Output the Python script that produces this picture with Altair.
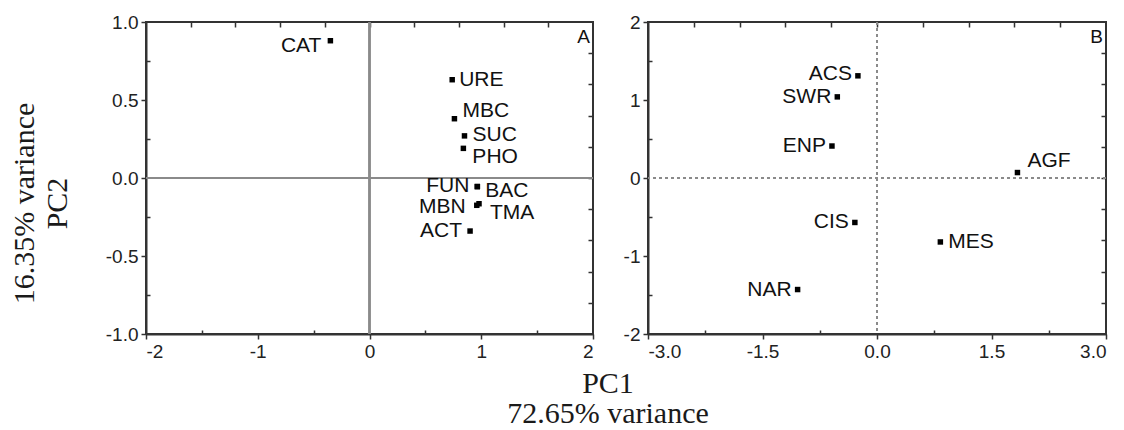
import altair as alt
import pandas as pd

# ---------------- data ----------------
# Panel A (loadings)
a_names = ["CAT", "URE", "MBC", "SUC", "PHO", "FUN", "BAC", "MBN", "TMA", "ACT"]
a_pc1 = [-0.35, 0.74, 0.76, 0.85, 0.84, 0.965, 0.965, 0.96, 0.98, 0.90]
a_pc2 = [0.88, 0.63, 0.38, 0.27, 0.19, -0.055, -0.055, -0.175, -0.165, -0.34]

# Panel B (scores)
b_names = ["ACS", "SWR", "ENP", "AGF", "CIS", "MES", "NAR"]
b_pc1 = [-0.25, -0.52, -0.59, 1.84, -0.29, 0.83, -1.04]
b_pc2 = [1.31, 1.04, 0.41, 0.07, -0.57, -0.82, -1.43]

# axis tick values
a_x_major = [-2, -1, 0, 1, 2]
a_x_minor = [-1.5, -0.5, 0.5, 1.5]
a_x_top = [-1.6, -1.2, -0.8, -0.4, 0, 0.4, 0.8, 1.2, 1.6]
a_y_major = [-1.0, -0.5, 0.0, 0.5, 1.0]
a_y_minor = [-0.75, -0.25, 0.25, 0.75]
a_y_right = [-0.8, -0.6, -0.4, -0.2, 0, 0.2, 0.4, 0.6, 0.8]

b_x_major = [-3.0, -1.5, 0.0, 1.5, 3.0]
b_x_minor = [-2.25, -0.75, 0.75, 2.25]
b_x_top = [-2.4, -1.8, -1.2, -0.6, 0, 0.6, 1.2, 1.8, 2.4]
b_y_major = [-2, -1, 0, 1, 2]
b_y_minor = [-1.5, -0.5, 0.5, 1.5]
b_y_right = [-1.6, -1.2, -0.8, -0.4, 0, 0.4, 0.8, 1.2, 1.6]

y_title = ["16.35% variance", "PC2"]
x_title = ["PC1", "72.65% variance"]

# ---------------- label placement (style) ----------------
# side, x nudge px, y nudge px
a_place = {
    "CAT": ("L", -9, 5), "URE": ("R", 7, 0), "MBC": ("R", 8, -8), "SUC": ("R", 8, -1),
    "PHO": ("R", 9, 9), "FUN": ("L", -8, -1), "BAC": ("R", 8, 4), "MBN": ("L", -11, 2),
    "TMA": ("R", 11, 9), "ACT": ("L", -8, 0),
}
b_place = {
    "ACS": ("L", -6, -2), "SWR": ("L", -6, 0), "ENP": ("L", -6, 0), "AGF": ("R", 10, -12),
    "CIS": ("L", -6, 0), "MES": ("R", 8, 0), "NAR": ("L", -6, 0),
}


def make_df(names, xs, ys, place):
    return pd.DataFrame({
        "name": names, "pc1": xs, "pc2": ys,
        "side": [place[n][0] for n in names],
        "ndx": [place[n][1] for n in names],
        "ndy": [place[n][2] for n in names],
    })


LABEL_FONT = "Liberation Sans"
TITLE_FONT = "Liberation Serif"
HYPHEN = "replace(datum.label, '\u2212', '-')"


def panel(df, xdom, ydom, w, h, xmaj, xmin, xtop, ymaj, ymin, yright,
          xfmt, yfmt, ytitle, dash, tag):
    xs = alt.Scale(domain=xdom, nice=False, zero=False)
    ys = alt.Scale(domain=ydom, nice=False, zero=False)
    base = alt.Chart(df)

    yaxis_kw = dict(orient="left", values=ymaj, format=yfmt, grid=False,
                    tickSize=5, labelPadding=3, labelExpr=HYPHEN)
    if ytitle is not None:
        yaxis_kw.update(title=ytitle, titlePadding=33, titleLineHeight=33,
                        titleAngle=-90, titleY=181)
    else:
        yaxis_kw.update(title=None)

    pts = base.mark_square(size=30, color="black", opacity=1).encode(
        x=alt.X("pc1:Q", scale=xs,
                axis=alt.Axis(orient="bottom", values=xmaj, format=xfmt, title=None,
                              grid=False, tickSize=5, labelPadding=3, labelExpr=HYPHEN)),
        y=alt.Y("pc2:Q", scale=ys, axis=alt.Axis(**yaxis_kw)),
    )
    minor = base.mark_point(opacity=0).encode(
        x=alt.X("pc1:Q", scale=xs,
                axis=alt.Axis(orient="bottom", values=xmin, labels=False, domain=False,
                              tickSize=4, offset=-4, title=None, grid=False)),
        y=alt.Y("pc2:Q", scale=ys,
                axis=alt.Axis(orient="left", values=ymin, labels=False, domain=False,
                              tickSize=4, offset=-4, title=None, grid=False)),
    )
    mirror = base.mark_point(opacity=0).encode(
        x=alt.X("pc1:Q", scale=xs,
                axis=alt.Axis(orient="top", values=xtop, labels=False, domain=False,
                              tickSize=5, offset=-5, title=None, grid=False)),
        y=alt.Y("pc2:Q", scale=ys,
                axis=alt.Axis(orient="right", values=yright, labels=False, domain=False,
                              tickSize=5, offset=-5, title=None, grid=False)),
    )
    rule_kw = dict(color="#8a8a8a", strokeWidth=1.5)
    if dash:
        rule_kw.update(strokeDash=[3, 3])
    vrule = base.mark_rule(**rule_kw).encode(x=alt.XDatum(0, scale=xs, axis=None))
    hrule = base.mark_rule(**rule_kw).encode(y=alt.YDatum(0, scale=ys, axis=None))

    labels = base.mark_text(
        font=LABEL_FONT, fontSize=21, baseline="middle", color="#111",
        align=alt.expr("datum.side == 'L' ? 'right' : 'left'"),
        dx=alt.expr("datum.ndx"), dy=alt.expr("datum.ndy"),
    ).encode(
        x=alt.X("pc1:Q", scale=xs, axis=None),
        y=alt.Y("pc2:Q", scale=ys, axis=None),
        text="name:N",
    )

    tag_layer = alt.Chart(pd.DataFrame({"t": [tag]})).mark_text(
        font=LABEL_FONT, fontSize=19, align="right", baseline="top", color="#111"
    ).encode(text="t:N", x=alt.value(w - 3), y=alt.value(6))

    return alt.layer(vrule, hrule, minor, mirror, pts, labels,
                     tag_layer).resolve_axis(x="independent", y="independent").properties(
        width=w, height=h)


dfa = make_df(a_names, a_pc1, a_pc2, a_place)
dfb = make_df(b_names, b_pc1, b_pc2, b_place)

pa = panel(dfa, [-2, 2], [-1, 1], 447, 312, a_x_major, a_x_minor, a_x_top,
           a_y_major, a_y_minor, a_y_right, "d", ".1f", y_title, False, "A")
pb = panel(dfb, [-3, 3], [-2, 2], 458, 312, b_x_major, b_x_minor, b_x_top,
           b_y_major, b_y_minor, b_y_right, ".1f", "d", None, True, "B")

chart = alt.hconcat(pa, pb, spacing=27).properties(
    title=alt.TitleParams(x_title, orient="bottom", anchor="middle", font=TITLE_FONT,
                          fontSize=30, fontWeight="normal", lineHeight=30, offset=7,
                          dx=50, color="#1a1a1a"),
    padding={"left": 0, "top": 4, "right": 0, "bottom": 0},
).configure_view(
    stroke="#333", strokeWidth=2
).configure_axis(
    labelFont=LABEL_FONT, labelFontSize=19, labelColor="#222",
    tickColor="#333", tickWidth=1.5, domainColor="#333", domainWidth=2,
    titleFont=TITLE_FONT, titleFontSize=30, titleFontWeight="normal", titleColor="#1a1a1a",
)

chart.save("out.html", embed_options={"renderer": "svg", "actions": False})
